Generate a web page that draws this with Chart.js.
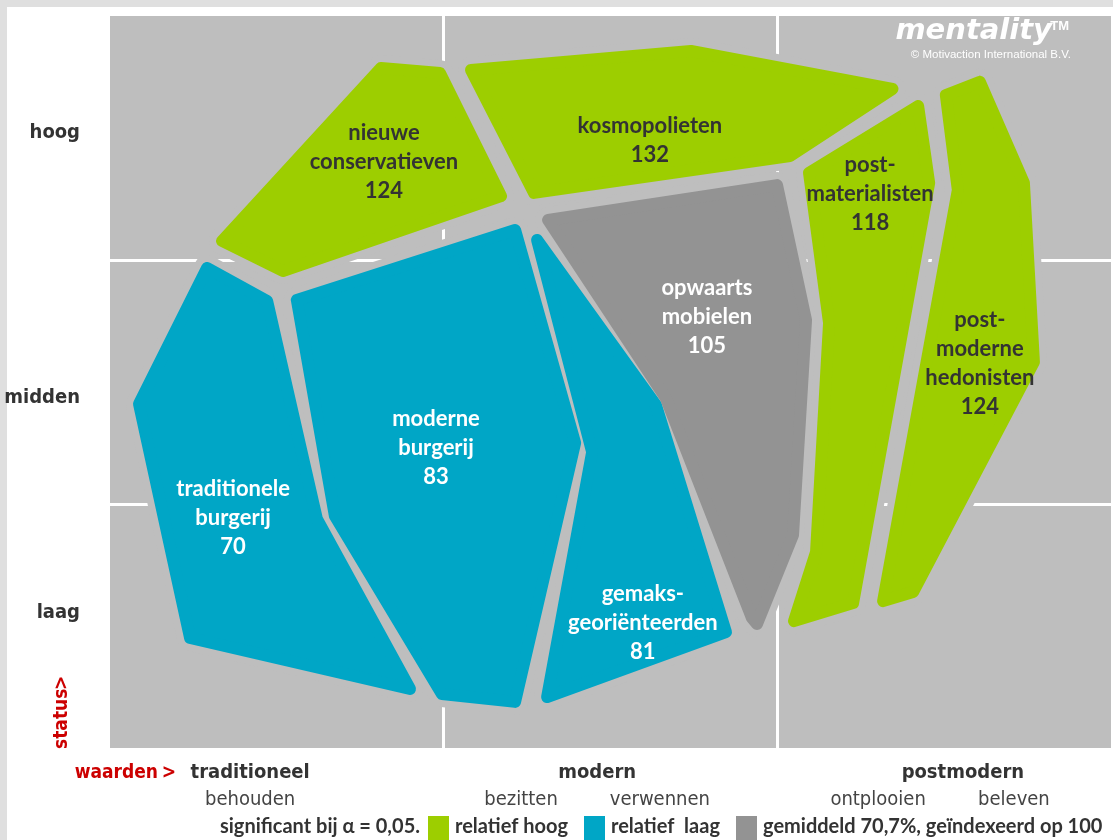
<!DOCTYPE html>
<html>
<head>
<meta charset="utf-8">
<script src="https://cdn.jsdelivr.net/npm/chart.js@4"></script>
<style>
  html, body { margin: 0; padding: 0; background: #fff; }
  canvas { display: block; }
</style>
</head>
<body>
<canvas id="map" width="1113" height="840"></canvas>
<script>
// mentality segments, x = waarden (0..3), y = status (0..3)
const segmentNames = [
  "nieuwe\nconservatieven",
  "kosmopolieten",
  "post-\nmaterialisten",
  "post-\nmoderne\nhedonisten",
  "opwaarts\nmobielen",
  "moderne\nburgerij",
  "traditionele\nburgerij",
  "gemaks-\ngeoriënteerden",
];
const segmentIndex = [124, 132, 118, 124, 105, 83, 70, 81];
const segmentLevel = ["hoog", "hoog", "hoog", "hoog", "gem", "laag", "laag", "laag"];

const nieuweConservatieven = [[0.812, 2.787], [0.989, 2.766], [1.172, 2.262], [0.518, 1.955], [0.336, 2.078]];
const kosmopolieten = [[1.082, 2.779], [1.741, 2.857], [2.345, 2.701], [2.038, 2.426], [1.271, 2.275]];
const postMaterialisten = [[2.422, 2.631], [2.455, 2.316], [2.227, 0.594], [2.05, 0.52], [2.116, 0.803], [2.155, 1.742], [2.095, 2.357]];
const postModerneHedonisten = [[2.607, 2.73], [2.739, 2.316], [2.769, 1.582], [2.407, 0.639], [2.317, 0.602], [2.541, 2.287], [2.505, 2.676]];
const opwaartsMobielen = [[1.313, 2.164], [1.999, 2.307], [2.086, 1.754], [2.047, 0.873], [1.939, 0.508], [1.924, 0.533], [1.666, 1.434]];
const moderneBurgerij = [[0.56, 1.836], [1.214, 2.123], [1.394, 1.25], [1.214, 0.189], [0.995, 0.221], [0.674, 0.951]];
const traditioneleBurgerij = [[0.291, 1.967], [0.471, 1.832], [0.62, 0.939], [0.899, 0.242], [0.24, 0.451], [0.087, 1.41]];
const gemaksGeorienteerden = [[1.28, 2.082], [1.445, 1.213], [1.31, 0.209], [1.846, 0.475], [1.636, 1.406]];

const segmentShapes = [
  nieuweConservatieven, kosmopolieten, postMaterialisten, postModerneHedonisten,
  opwaartsMobielen, moderneBurgerij, traditioneleBurgerij, gemaksGeorienteerden,
];
const labelPos = [[0.821, 2.4], [1.618, 2.492], [2.278, 2.27], [2.607, 1.575], [1.789, 1.765], [0.977, 1.228], [0.369, 0.945], [1.597, 0.513]];

// axis texts
const statusLabels = ["laag", "midden", "hoog"];
const statusPos = [0.553, 1.434, 2.52];
const valueLabels = ["traditioneel", "modern", "postmodern"];
const valuePos = [0.42, 1.46, 2.556];
const subLabels = ["behouden", "bezitten", "verwennen", "ontplooien", "beleven"];
const subPos = [0.42, 1.232, 1.648, 2.302, 2.709];

const colors = { hoog: "#9dce00", laag: "#00a6c6", gem: "#939393" };
const textColors = { hoog: "#333333", laag: "#ffffff", gem: "#ffffff" };
const panel = "#bebebe";

function toPoints(shape) {
  const pts = shape.map((p) => ({ x: p[0], y: p[1] }));
  pts.push({ x: shape[0][0], y: shape[0][1] });
  return pts;
}

function datasets() {
  const store = [];
  segmentShapes.forEach((shape, i) => {
    const c = colors[segmentLevel[i]];
    store.push({
      label: segmentNames[i],
      data: toPoints(shape),
      borderColor: c,
      backgroundColor: c,
      borderWidth: 12,
      borderJoinStyle: "round",
      borderCapStyle: "round",
      fill: "shape",
      pointRadius: 0,
      tension: 0,
      order: 1,
    });
    // light grey halo hides the grid in the gaps
    store.push({
      label: "gap",
      data: toPoints(shape),
      borderColor: panel,
      borderWidth: 26,
      borderJoinStyle: "round",
      borderCapStyle: "round",
      fill: false,
      pointRadius: 0,
      tension: 0,
      order: 2,
    });
  });
  return store;
}

const cond = "'Liberation Sans Narrow', 'DejaVu Sans Condensed', sans-serif";
const body = "Lato, 'Open Sans', sans-serif";

const mapPlugin = {
  id: "mapPlugin",
  beforeDraw(chart) {
    const { ctx, chartArea: a } = chart;
    ctx.save();
    ctx.fillStyle = "#dfdfdf";
    ctx.fillRect(0, 0, chart.width, 7);
    ctx.fillRect(0, 0, 7, chart.height);
    ctx.fillStyle = panel;
    ctx.fillRect(a.left, a.top, a.right - a.left, a.bottom - a.top);
    ctx.restore();
  },
  afterDatasetsDraw(chart) {
    const { ctx } = chart;
    const x = chart.scales.x;
    const y = chart.scales.y;
    ctx.save();
    ctx.textAlign = "center";
    ctx.textBaseline = "middle";

    // segment labels
    ctx.font = "bold 22px " + body;
    segmentShapes.forEach((s, i) => {
      const lines = segmentNames[i].split("\n").concat(String(segmentIndex[i]));
      const cx = x.getPixelForValue(labelPos[i][0]);
      const cy = y.getPixelForValue(labelPos[i][1]);
      ctx.fillStyle = textColors[segmentLevel[i]];
      lines.forEach((t, k) => {
        ctx.fillText(t, cx, cy + (k - (lines.length - 1) / 2) * 29);
      });
    });

    // watermark
    ctx.fillStyle = "#ffffff";
    ctx.textAlign = "right";
    ctx.textBaseline = "alphabetic";
    ctx.font = "italic bold 29px 'DejaVu Sans', sans-serif";
    ctx.fillText("mentality", 1052, 39);
    ctx.font = "bold 13px 'Liberation Sans', Arial, sans-serif";
    ctx.fillText("TM", 1069, 30);
    ctx.font = "11.5px 'Liberation Sans', Arial, sans-serif";
    ctx.fillText("© Motivaction International B.V.", 1071, 58);
    ctx.textBaseline = "middle";

    // status axis
    ctx.fillStyle = "#333333";
    ctx.font = "bold 20px " + cond;
    statusLabels.forEach((t, i) => {
      ctx.fillText(t, 80, y.getPixelForValue(statusPos[i]));
    });

    // waarden axis
    ctx.textAlign = "center";
    valueLabels.forEach((t, i) => {
      ctx.fillText(t, x.getPixelForValue(valuePos[i]), 773);
    });
    ctx.fillStyle = "#444444";
    ctx.font = "20px " + cond;
    subLabels.forEach((t, i) => {
      ctx.fillText(t, x.getPixelForValue(subPos[i]), 800);
    });

    ctx.fillStyle = "#cc0000";
    ctx.font = "bold 19px " + cond;
    ctx.textAlign = "right";
    ctx.fillText(">", 176, 773);
    ctx.fillText("waarden", 158, 773);
    ctx.save();
    ctx.translate(62, 749);
    ctx.rotate(-Math.PI / 2);
    ctx.textAlign = "left";
    ctx.fillText("status", 0, 0);
    ctx.fillText(">", 59, 0);
    ctx.restore();

    // legend
    ctx.font = "bold 20px " + body;
    ctx.fillStyle = "#333333";
    ctx.textAlign = "right";
    ctx.fillText("significant bij α = 0,05.", 420, 827);
    const legend = [
      [428, colors.hoog, "relatief hoog"],
      [584, colors.laag, "relatief  laag"],
      [736, colors.gem, "gemiddeld 70,7%, geïndexeerd op 100"],
    ];
    ctx.textAlign = "left";
    legend.forEach(([lx, c, t]) => {
      ctx.fillStyle = c;
      ctx.fillRect(lx, 816, 21, 24);
      ctx.fillStyle = "#333333";
      ctx.fillText(t, lx + 27, 827);
    });
    ctx.restore();
  },
};

const gridColor = (c) => (c.tick.value === 1 || c.tick.value === 2 ? "#ffffff" : "rgba(0,0,0,0)");

new Chart(document.getElementById("map"), {
  type: "line",
  data: { datasets: datasets() },
  options: {
    responsive: false,
    animation: false,
    devicePixelRatio: 1,
    layout: { padding: { left: 110, top: 16, right: 2, bottom: 92 } },
    plugins: { legend: { display: false }, tooltip: { enabled: false } },
    events: [],
    scales: {
      x: {
        type: "linear",
        min: 0,
        max: 3,
        ticks: { display: false, stepSize: 1 },
        grid: { color: gridColor, lineWidth: 3, drawTicks: false },
        border: { display: false },
      },
      y: {
        type: "linear",
        min: 0,
        max: 3,
        ticks: { display: false, stepSize: 1 },
        grid: { color: gridColor, lineWidth: 3, drawTicks: false },
        border: { display: false },
      },
    },
  },
  plugins: [mapPlugin],
});
</script>
</body>
</html>
